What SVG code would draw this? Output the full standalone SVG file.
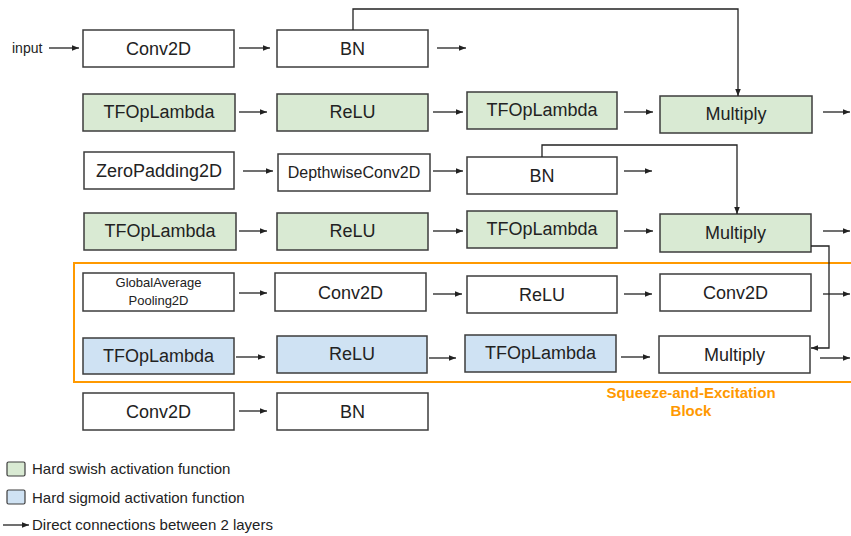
<svg xmlns="http://www.w3.org/2000/svg" width="851" height="536" viewBox="0 0 851 536">
  <defs>
    <marker id="arrow" viewBox="0 0 10 10" refX="10" refY="5" markerWidth="7" markerHeight="7" markerUnits="userSpaceOnUse" orient="auto">
      <path d="M0,1 L10,5 L0,9 z" fill="#222"/>
    </marker>
    <style>
      .box { stroke: #3c3c3c; stroke-width: 1.5; fill: #fff; }
      .swish { fill: #d9ead3; }
      .sigmoid { fill: #cfe2f3; }
      .label { font-family: "Liberation Sans", Arial, sans-serif; font-size: 18px; fill: #222; text-anchor: middle; }
      .small { font-size: 16px; }
      .tiny { font-size: 13px; }
      .conn line, .conn polyline { stroke: #222; stroke-width: 1.3; fill: none; }
      .arr { marker-end: url(#arrow); }
      .legend { font-family: "Liberation Sans", Arial, sans-serif; font-size: 15px; fill: #222; }
      .se { fill: none; stroke: #ff9900; stroke-width: 2; }
      .se-label { font-family: "Liberation Sans", Arial, sans-serif; font-size: 15px; font-weight: bold; fill: #ff9900; text-anchor: middle; }
    </style>
  </defs>

  <rect width="851" height="536" fill="#fff"/>

  <!-- Squeeze-and-Excitation block frame -->
  <g id="se-block">
    <rect class="se" x="74" y="263" width="790" height="119"/>
    <text class="se-label" x="691" y="398">Squeeze-and-Excitation</text>
    <text class="se-label" x="691" y="416">Block</text>
  </g>

  <!-- Row 1 -->
  <text class="legend" x="12" y="53" style="font-size:14px">input</text>
  <g id="conv2d-1"><rect class="box" x="83" y="30" width="151" height="37"/><text class="label" x="158.5" y="55">Conv2D</text></g>
  <g id="bn-1"><rect class="box" x="277" y="30" width="151" height="37"/><text class="label" x="352.5" y="55">BN</text></g>

  <!-- Row 2 -->
  <g id="tfop-1"><rect class="box swish" x="83" y="94" width="152" height="37"/><text class="label" x="159" y="118">TFOpLambda</text></g>
  <g id="relu-1"><rect class="box swish" x="277" y="94" width="151" height="37"/><text class="label" x="352.5" y="118">ReLU</text></g>
  <g id="tfop-2"><rect class="box swish" x="467" y="92" width="150" height="37"/><text class="label" x="542" y="116">TFOpLambda</text></g>
  <g id="multiply-1"><rect class="box swish" x="660" y="96" width="152" height="37"/><text class="label" x="736" y="120">Multiply</text></g>

  <!-- Row 3 -->
  <g id="zeropad"><rect class="box" x="84" y="152" width="150" height="37"/><text class="label" x="159" y="177">ZeroPadding2D</text></g>
  <g id="depthwise"><rect class="box" x="278" y="154" width="152" height="37"/><text class="label small" x="354" y="178">DepthwiseConv2D</text></g>
  <g id="bn-2"><rect class="box" x="467" y="157" width="150" height="37"/><text class="label" x="542" y="182">BN</text></g>

  <!-- Row 4 -->
  <g id="tfop-3"><rect class="box swish" x="84" y="213" width="152" height="37"/><text class="label" x="160" y="237">TFOpLambda</text></g>
  <g id="relu-2"><rect class="box swish" x="277" y="213" width="151" height="37"/><text class="label" x="352.5" y="237">ReLU</text></g>
  <g id="tfop-4"><rect class="box swish" x="467" y="211" width="150" height="37"/><text class="label" x="542" y="235">TFOpLambda</text></g>
  <g id="multiply-2"><rect class="box swish" x="660" y="214" width="151" height="38"/><text class="label" x="735.5" y="239">Multiply</text></g>

  <!-- Row 5 (inside SE block) -->
  <g id="gap"><rect class="box" x="83" y="273" width="151" height="38"/><text class="label tiny" x="158.5" y="287">GlobalAverage</text><text class="label tiny" x="158.5" y="305">Pooling2D</text></g>
  <g id="conv2d-2"><rect class="box" x="275" y="273" width="151" height="38"/><text class="label" x="350.5" y="299">Conv2D</text></g>
  <g id="relu-3"><rect class="box" x="467" y="276" width="150" height="37"/><text class="label" x="542" y="301">ReLU</text></g>
  <g id="conv2d-3"><rect class="box" x="660" y="274" width="151" height="37"/><text class="label" x="735.5" y="299">Conv2D</text></g>

  <!-- Row 6 (inside SE block) -->
  <g id="tfop-5"><rect class="box sigmoid" x="83" y="338" width="151" height="36"/><text class="label" x="158.5" y="362">TFOpLambda</text></g>
  <g id="relu-4"><rect class="box sigmoid" x="277" y="336" width="150" height="37"/><text class="label" x="352" y="360">ReLU</text></g>
  <g id="tfop-6"><rect class="box sigmoid" x="465" y="335" width="151" height="37"/><text class="label" x="540.5" y="359">TFOpLambda</text></g>
  <g id="multiply-3"><rect class="box" x="659" y="336" width="151" height="37"/><text class="label" x="734.5" y="361">Multiply</text></g>

  <!-- Row 7 -->
  <g id="conv2d-4"><rect class="box" x="83" y="393" width="151" height="37"/><text class="label" x="158.5" y="418">Conv2D</text></g>
  <g id="bn-3"><rect class="box" x="277" y="393" width="151" height="37"/><text class="label" x="352.5" y="418">BN</text></g>

  <!-- Connectors -->
  <g id="connectors" class="conn">
    <line class="arr" x1="49" y1="48" x2="79" y2="48"/>
    <line class="arr" x1="239" y1="48" x2="270" y2="48"/>
    <line class="arr" x1="437" y1="48" x2="466" y2="48"/>
    <polyline class="arr" points="353,30 353,9 738,9 738,96"/>

    <line class="arr" x1="239" y1="112" x2="267" y2="112"/>
    <line class="arr" x1="433" y1="112" x2="463" y2="112"/>
    <line class="arr" x1="624" y1="112" x2="653" y2="112"/>
    <line class="arr" x1="823" y1="112" x2="850" y2="112"/>

    <line class="arr" x1="243" y1="171" x2="273" y2="171"/>
    <line class="arr" x1="433" y1="171" x2="463" y2="171"/>
    <line class="arr" x1="624" y1="171" x2="652" y2="171"/>
    <polyline class="arr" points="542,157 542,145 737,145 737,214"/>

    <line class="arr" x1="239" y1="231" x2="267" y2="231"/>
    <line class="arr" x1="433" y1="231" x2="463" y2="231"/>
    <line class="arr" x1="624" y1="231" x2="653" y2="231"/>
    <line class="arr" x1="823" y1="231" x2="850" y2="231"/>
    <polyline class="arr" points="811,246 829,246 829,348 811,348"/>

    <line class="arr" x1="239" y1="293" x2="267" y2="293"/>
    <line class="arr" x1="433" y1="294" x2="462" y2="294"/>
    <line class="arr" x1="624" y1="294" x2="652" y2="294"/>
    <line class="arr" x1="823" y1="294" x2="850" y2="294"/>

    <line class="arr" x1="236" y1="357" x2="265" y2="357"/>
    <line class="arr" x1="429" y1="358" x2="456" y2="358"/>
    <line class="arr" x1="621" y1="357" x2="650" y2="357"/>
    <line class="arr" x1="820" y1="358" x2="850" y2="358"/>

    <line class="arr" x1="239" y1="411" x2="267" y2="411"/>
  </g>

  <!-- Legend -->
  <g id="legend">
    <rect class="box swish" x="7" y="462" width="18" height="14" rx="1.5" style="stroke-width:1.2"/>
    <text class="legend" x="32" y="474">Hard swish activation function</text>
    <rect class="box sigmoid" x="7" y="490" width="18" height="14" rx="1.5" style="stroke-width:1.2"/>
    <text class="legend" x="32" y="503">Hard sigmoid activation function</text>
    <line x1="3" y1="525" x2="29" y2="525" stroke="#222" stroke-width="1.3" marker-end="url(#arrow)"/>
    <text class="legend" x="32" y="530">Direct connections between 2 layers</text>
  </g>
</svg>
